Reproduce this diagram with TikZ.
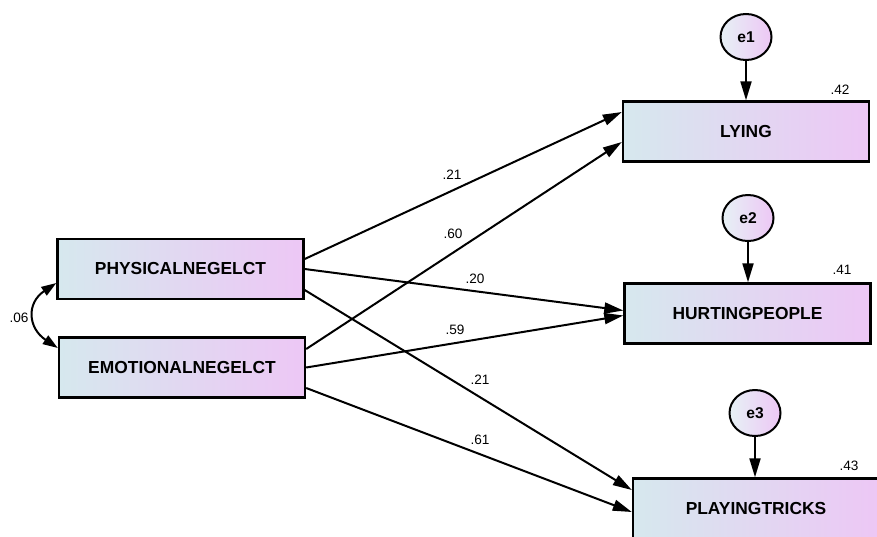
\documentclass[tikz,border=0pt]{standalone}
\usepackage{fontspec}
\setmainfont{Liberation Sans}
\usetikzlibrary{arrows.meta,shapes.geometric}
\definecolor{boxleft}{RGB}{214,232,238}
\definecolor{boxright}{RGB}{237,199,245}

\begin{document}
\begin{tikzpicture}[x=.5pt,y=-.5pt,
    var/.style={draw,line width=1.2pt,left color=boxleft,right color=boxright,
      minimum width=123pt,minimum height=30pt,inner sep=0pt,
      font=\bfseries\fontsize{8.7}{10}\selectfont},
    err/.style={draw,ellipse,line width=1pt,left color=boxleft!60!white,right color=boxright,
      minimum width=25.5pt,minimum height=23pt,inner sep=0pt,
      font=\bfseries\fontsize{7.8}{9}\selectfont},
    reg/.style={line width=1pt,-{Triangle[length=9.5pt,width=5.5pt]}},
    cov/.style={line width=1pt,{Triangle[length=7.5pt,width=5pt]}-{Triangle[length=7.5pt,width=5pt]}},
    coef/.style={inner sep=0pt,font=\fontsize{6.8}{8}\selectfont}]
    \useasboundingbox (0,0) rectangle (877,536);
    \clip (0,0) rectangle (877,536);
    % observed variables
    \node[var] (phys) at (180.5,269) {PHYSICALNEGELCT};
    \node[var] (emo) at (182,367.5) {EMOTIONALNEGELCT};
    \node[var] (lying) at (746,131.5) {LYING};
    \node[var] (hurt) at (747.5,313.5) {HURTINGPEOPLE};
    \node[var] (trick) at (756,508.5) {PLAYINGTRICKS};
    % error terms
    \node[err] (e1) at (746,37) {e1};
    \node[err] (e2) at (748,218) {e2};
    \node[err] (e3) at (755,413) {e3};
    \draw[reg] (e1.south) -- (e1.south |- lying.north);
    \draw[reg] (e2.south) -- (e2.south |- hurt.north);
    \draw[reg] (e3.south) -- (e3.south |- trick.north);
    % paths
    \draw[reg] ([yshift=5pt]phys.east) -- ([yshift=9.75pt]lying.west);
    \draw[reg] ([yshift=9.25pt]emo.east) -- ([yshift=-5.25pt]lying.west);
    \draw[reg] (phys.east) -- ([yshift=1.5pt]hurt.west);
    \draw[reg] (emo.east) -- ([yshift=-1pt]hurt.west);
    \draw[reg] ([yshift=-10.5pt]phys.east) -- ([yshift=9.25pt]trick.west);
    \draw[reg] ([yshift=-10.25pt]emo.east) -- ([yshift=-1.75pt]trick.west);
    \draw[cov] ([yshift=-7pt]phys.west) .. controls +(-30,20) and +(-30,-20) .. ([yshift=9.75pt]emo.west);
    % estimates
    \node[coef] (w1) at (452,175) {.21};
    \node[coef] (w2) at (453,234) {.60};
    \node[coef] (w3) at (475,279) {.20};
    \node[coef] (w4) at (455,330) {.59};
    \node[coef] (w5) at (480,380) {.21};
    \node[coef] (w6) at (480,440) {.61};
    \node[coef] (c1) at (19,318) {.06};
    \node[coef] (r1) at (840,90) {.42};
    \node[coef] (r2) at (842,270) {.41};
    \node[coef] (r3) at (849,466) {.43};
\end{tikzpicture}
\end{document}
